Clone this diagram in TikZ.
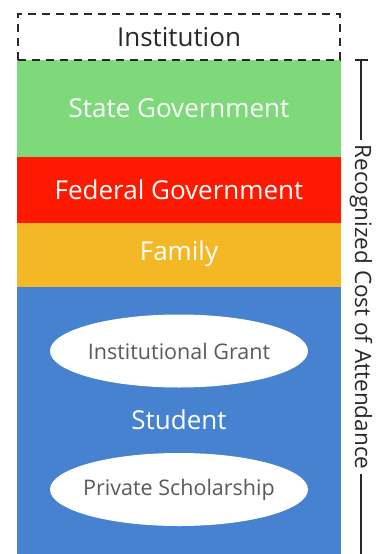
\documentclass[tikz,border=0pt]{standalone}
\usepackage{fontspec}
\setmainfont{Open Sans}
\usetikzlibrary{shapes.geometric}
\definecolor{cgreen}{RGB}{126,217,122}
\definecolor{cred}{RGB}{255,25,0}
\definecolor{corange}{RGB}{244,183,38}
\definecolor{cblue}{RGB}{70,130,208}
\definecolor{cdark}{RGB}{40,40,40}
\definecolor{cgrey}{RGB}{90,90,90}
\tikzset{
  band/.style={draw=none, minimum width=324pt, inner sep=0pt, outer sep=0pt, anchor=north west},
  bandtext/.style={text=white, font=\fontsize{26}{30}\selectfont},
  oval/.style={ellipse, fill=white, draw=none, minimum width=258pt, minimum height=73pt, inner sep=0pt},
  ovaltext/.style={text=cgrey, font=\fontsize{21.5}{25}\selectfont, inner sep=0pt},
  bracket/.style={draw=cdark, line width=1.3pt}
}
\begin{document}
\begin{tikzpicture}[x=1pt,y=-1pt]
\useasboundingbox (0,0) rectangle (381,554);
% bands
\node[band, fill=cgreen, minimum height=97pt] (green) at (17,60) {};
\node[band, fill=cred, minimum height=66pt] (red) at (17,157) {};
\node[band, fill=corange, minimum height=64pt] (orange) at (17,223) {};
\node[band, fill=cblue, minimum height=267pt] (blue) at (17,287) {};
% dashed institution box
\node[draw=cdark, line width=2.3pt, dash pattern=on 8pt off 6pt, minimum width=322pt, minimum height=46pt, inner sep=0pt, text=cdark, font=\fontsize{26}{30}\selectfont] (inst) at (179,37) {Institution};
% band labels
\node[bandtext] (sg) at (179,108.5) {State Government};
\node[bandtext] (fg) at (179,190) {Federal Government};
\node[bandtext] (fam) at (179,254) {Family};
\node[bandtext] (stu) at (179,420) {Student};
% ovals
\node[oval] (ig) at (179,351) {};
\node[ovaltext] (igt) at (ig.center) {Institutional Grant};
\node[oval] (ps) at (179,489.5) {};
\node[ovaltext] (pst) at (ps.center) {Private Scholarship};
% bracket
\coordinate (btop) at (361,60);
\coordinate (bbot) at (361,554);
\coordinate (tl) at (355,60);
\coordinate (tr) at (368,60);
\node[rotate=-90, text=cdark, font=\fontsize{22.5}{26}\selectfont, inner sep=4pt] (rca) at (361,307) {Recognized Cost of Attendance};
\draw[bracket] (tl) -- (tr);
\draw[bracket] (btop) -- (rca.west);
\draw[bracket] (rca.east) -- (bbot);
\end{tikzpicture}
\end{document}
